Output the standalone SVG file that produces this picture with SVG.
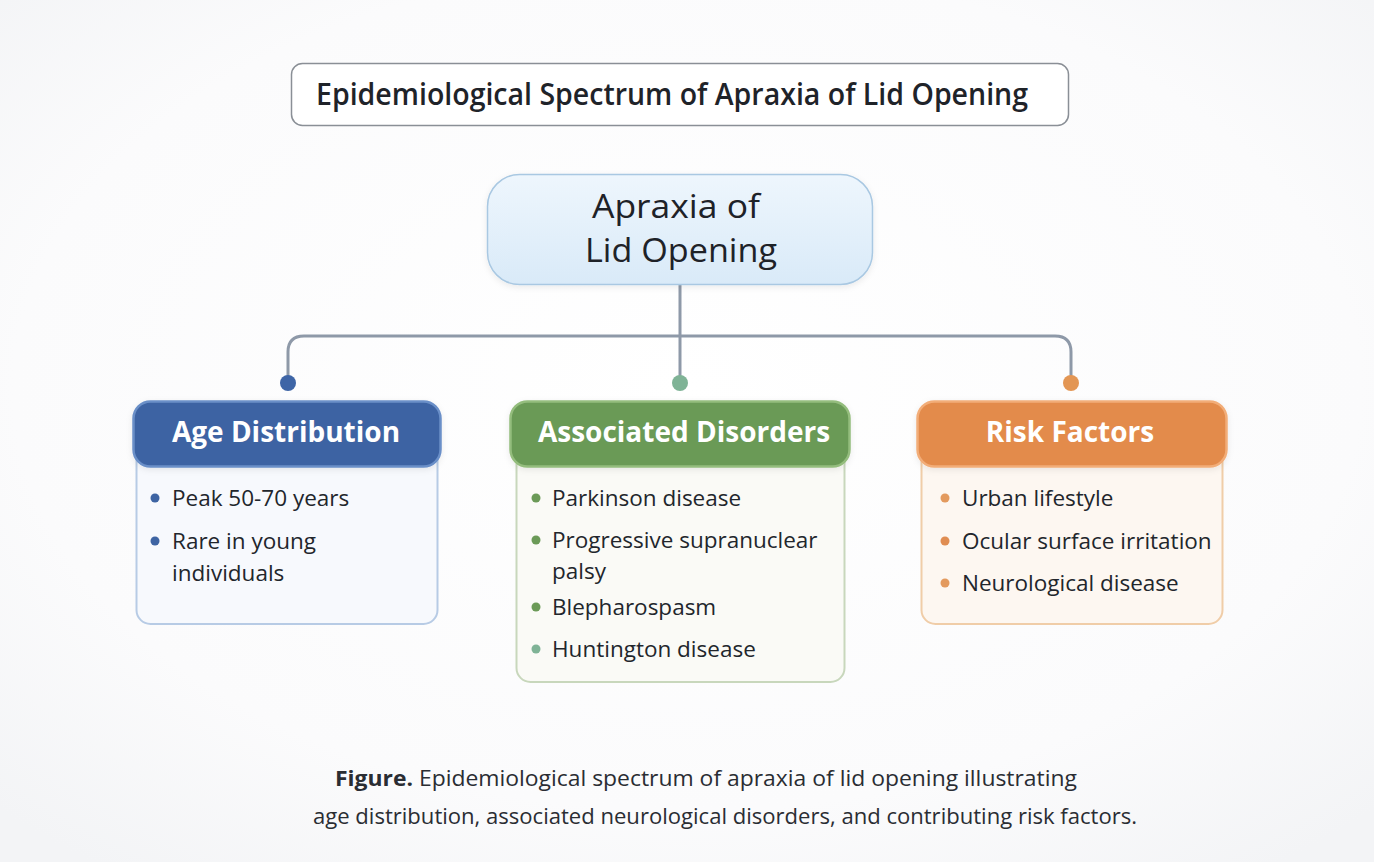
<svg xmlns="http://www.w3.org/2000/svg" width="1374" height="862" viewBox="0 0 1374 862">
<defs>
<radialGradient id="bg" cx="50%" cy="45%" r="70%">
<stop offset="0" stop-color="#ffffff"/>
<stop offset="0.7" stop-color="#fbfbfc"/>
<stop offset="1" stop-color="#f3f4f6"/>
</radialGradient>
<linearGradient id="center" x1="0" y1="0" x2="0" y2="1">
<stop offset="0" stop-color="#eef6fd"/>
<stop offset="1" stop-color="#d9eaf8"/>
</linearGradient>
<filter id="sh" x="-10%" y="-10%" width="120%" height="130%">
<feDropShadow dx="0" dy="2" stdDeviation="3" flood-color="#000" flood-opacity="0.08"/>
</filter>
</defs>
<style>
.title{font-family:"Open Sans","Liberation Sans",sans-serif;font-weight:600;font-size:30px;fill:#1f2329}
.ctr{font-family:"Open Sans","Noto Sans",sans-serif;font-size:32px;fill:#1e2228}
.hdr{font-family:"Open Sans","Noto Sans",sans-serif;font-weight:700;font-size:28px;fill:#ffffff}
.item{font-family:"Open Sans","Noto Sans",sans-serif;font-size:22.5px;fill:#22262c}
.cap{font-family:"Open Sans","Liberation Sans",sans-serif;font-size:22px;fill:#2a2d33}
.conn{fill:none;stroke:#8e99a8;stroke-width:3}
</style>
<rect width="1374" height="862" fill="url(#bg)"/>

<g id="title">
<rect x="291.5" y="63.5" width="777" height="62" rx="11" fill="#ffffff" stroke="#8a8f96" stroke-width="1.5"/>
<text class="title" x="316" y="105" textLength="712" lengthAdjust="spacingAndGlyphs">Epidemiological Spectrum of Apraxia of Lid Opening</text>
</g>

<g id="connectors">
<path class="conn" d="M680 284 V383"/>
<path class="conn" d="M288 383 V352 Q288 336 304 336 H1055 Q1071 336 1071 352 V383"/>
<circle cx="288" cy="383" r="8" fill="#3e65a6"/>
<circle cx="680" cy="383" r="8" fill="#7fb396"/>
<circle cx="1071" cy="383" r="8" fill="#e39654"/>
</g>

<g id="center">
<rect x="487.5" y="174.5" width="385" height="110" rx="32" fill="url(#center)" stroke="#a9c8e2" stroke-width="1.5" filter="url(#sh)"/>
<text class="ctr" x="676" y="218" text-anchor="middle" textLength="168" lengthAdjust="spacingAndGlyphs">Apraxia of</text>
<text class="ctr" x="681" y="262" text-anchor="middle" textLength="192" lengthAdjust="spacingAndGlyphs">Lid Opening</text>
</g>

<g id="age">
<rect x="136.5" y="440" width="301" height="184" rx="14" fill="#f7f9fd" stroke="#b7cbe5" stroke-width="2"/>
<rect x="133.5" y="401.5" width="307" height="65" rx="17" fill="#3e64a3" stroke="#6a8fc8" stroke-width="2.5" filter="url(#sh)"/>
<text class="hdr" x="286" y="442" text-anchor="middle">Age Distribution</text>
<circle cx="155" cy="498" r="4.5" fill="#3e64a3"/>
<text class="item" x="172" y="506">Peak 50-70 years</text>
<circle cx="155" cy="541" r="4.5" fill="#3e64a3"/>
<text class="item" x="172" y="549">Rare in young</text>
<text class="item" x="172" y="581">individuals</text>
</g>

<g id="disorders">
<rect x="516.5" y="440" width="328" height="242" rx="14" fill="#fafaf6" stroke="#c8d7bc" stroke-width="2"/>
<rect x="510.5" y="401.5" width="339" height="65" rx="17" fill="#6b9a57" stroke="#94bd7d" stroke-width="2.5" filter="url(#sh)"/>
<text class="hdr" x="684" y="442" text-anchor="middle">Associated Disorders</text>
<circle cx="536" cy="498" r="4.5" fill="#6b9a57"/>
<text class="item" x="552" y="506">Parkinson disease</text>
<circle cx="536" cy="540" r="4.5" fill="#6b9a57"/>
<text class="item" x="552" y="548">Progressive supranuclear</text>
<text class="item" x="552" y="579">palsy</text>
<circle cx="536" cy="607" r="4.5" fill="#6b9a57"/>
<text class="item" x="552" y="615">Blepharospasm</text>
<circle cx="536" cy="649" r="4.5" fill="#7fb396"/>
<text class="item" x="552" y="657">Huntington disease</text>
</g>

<g id="risk">
<rect x="921.5" y="440" width="301" height="184" rx="14" fill="#fdf7f1" stroke="#f0cda8" stroke-width="2"/>
<rect x="917.5" y="401.5" width="309" height="65" rx="17" fill="#e38b4c" stroke="#f2ad78" stroke-width="2.5" filter="url(#sh)"/>
<text class="hdr" x="1070" y="442" text-anchor="middle">Risk Factors</text>
<circle cx="945" cy="498" r="4.5" fill="#e39a5e"/>
<text class="item" x="962" y="506">Urban lifestyle</text>
<circle cx="945" cy="541" r="4.5" fill="#e08d52"/>
<text class="item" x="962" y="549">Ocular surface irritation</text>
<circle cx="945" cy="583" r="4.5" fill="#e39a5e"/>
<text class="item" x="962" y="591">Neurological disease</text>
</g>

<g id="caption">
<text class="cap" x="335" y="786" textLength="742" lengthAdjust="spacingAndGlyphs"><tspan font-weight="700">Figure.</tspan> Epidemiological spectrum of apraxia of lid opening illustrating</text>
<text class="cap" x="313" y="824" textLength="824" lengthAdjust="spacingAndGlyphs">age distribution, associated neurological disorders, and contributing risk factors.</text>
</g>
</svg>
